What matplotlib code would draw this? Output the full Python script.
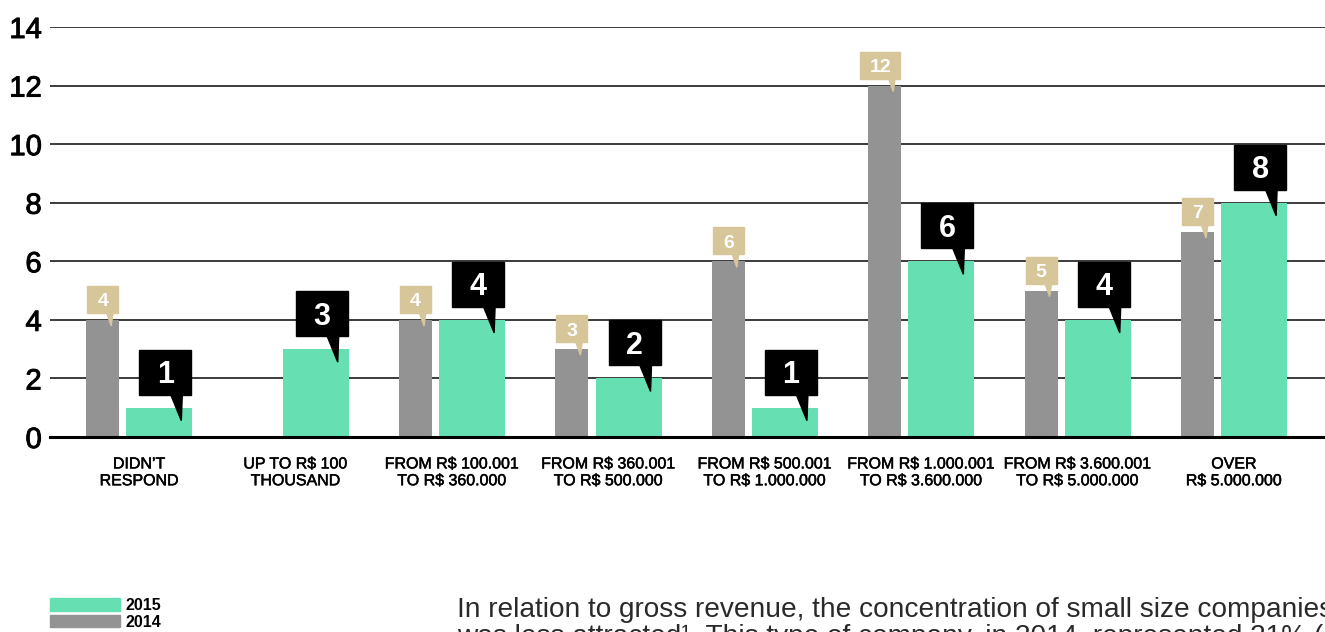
import matplotlib
matplotlib.use('Agg')
import matplotlib.pyplot as plt
import matplotlib.patheffects as pe
from matplotlib.patches import Polygon, Rectangle, Patch
from matplotlib.transforms import Affine2D, ScaledTranslation

plt.rcParams['font.family'] = ['Liberation Sans', 'DejaVu Sans']

categories = [
    "DIDN\u2019T\nRESPOND",
    "UP TO R$ 100\nTHOUSAND",
    "FROM R$ 100.001\nTO R$ 360.000",
    "FROM R$ 360.001\nTO R$ 500.000",
    "FROM R$ 500.001\nTO R$ 1.000.000",
    "FROM R$ 1.000.001\nTO R$ 3.600.000",
    "FROM R$ 3.600.001\nTO R$ 5.000.000",
    "OVER\nR$ 5.000.000",
]
y2014 = [4, 0, 4, 3, 6, 12, 5, 7]
y2015 = [1, 3, 4, 2, 1, 6, 4, 8]
years = ["2015", "2014"]
yticks = [0, 2, 4, 6, 8, 10, 12, 14]

GREEN = "#66e0b3"
GRAY = "#939393"
TAN = "#d8c69b"

note_lines = [
    "In relation to gross revenue, the concentration of small size companies",
    "was less attracted\u00b9. This type of company, in 2014, represented 21% (",
]

fig = plt.figure(figsize=(13.25, 6.32), dpi=100)
ax = fig.add_axes([50 / 1325, 1 - 437 / 632, 1 - 50 / 1325, (437 - 27) / 632])

x = list(range(len(categories)))
w14, w15 = 0.211, 0.422
off14, off15 = -0.232, 0.13
ax.bar([i + off14 for i in x], y2014, width=w14, color=GRAY, zorder=2)
ax.bar([i + off15 for i in x], y2015, width=w15, color=GREEN, zorder=2)

ax.set_xlim(-0.569, 7.583)
ax.set_ylim(0, 14)
ax.set_yticks(yticks)
ax.set_yticklabels([str(t) for t in yticks], fontsize=21)
ax.set_xticks(x)
ax.set_xticklabels(categories, fontsize=11.5, linespacing=1.15)
ax.tick_params(axis='y', length=0, pad=6)
ax.tick_params(axis='x', length=0, pad=14)
# slightly heavier strokes for the axis labels
for lbl in ax.get_yticklabels():
    lbl.set_path_effects([pe.withStroke(linewidth=0.7, foreground='black')])
for lbl in ax.get_xticklabels():
    lbl.set_path_effects([pe.withStroke(linewidth=0.35, foreground='black')])
for s in ['top', 'right', 'left']:
    ax.spines[s].set_visible(False)
ax.spines['bottom'].set_linewidth(2.2)
ax.spines['bottom'].set_color('black')
ax.yaxis.grid(True, color='#1a1a1a', lw=1.2)
ax.set_axisbelow(True)


def anchor(xr, val):
    # pixel offsets measured from the top-right corner of a bar
    return (Affine2D().scale(1 / fig.dpi) + fig.dpi_scale_trans
            + ScaledTranslation(xr, val, ax.transData))


def callout(xr, val, color, w, h, gap, base, tip, fs):
    tr = anchor(xr, val)
    ax.add_patch(Rectangle((-1 - w, gap), w, h, transform=tr, color=color,
                           clip_on=False, zorder=4))
    ax.add_patch(Polygon([(base[0], gap + 1), (base[1], gap + 1), tip],
                         closed=True, transform=tr, color=color,
                         clip_on=False, zorder=4))
    cap = fs * 0.716 * fig.dpi / 72
    ax.annotate(str(val), xy=(xr, val), xytext=(-1 - w / 2, gap + h / 2 - cap / 2),
                textcoords='offset pixels', ha='center', va='baseline',
                color='white', fontsize=fs, fontweight='bold', zorder=5)


for i in x:
    if y2014[i] > 0:
        wd = 31 if y2014[i] < 10 else 40
        callout(i + off14 + w14 / 2, y2014[i], TAN, wd, 27, 7,
                (-13, -6), (-8, -6), 14)
    callout(i + off15 + w15 / 2, y2015[i], 'black', 52, 45, 13,
            (-22, -10), (-11, -13), 22)

handles = [Patch(color=GREEN), Patch(color=GRAY)]
fig.legend(handles, years, loc='upper left',
           bbox_to_anchor=(50 / 1325, 1 - 598 / 632),
           frameon=False, borderpad=0, borderaxespad=0,
           handlelength=4.4, handleheight=0.85, labelspacing=0.1,
           handletextpad=0.3, prop={'size': 11.5, 'weight': 'bold'})

for k, line in enumerate(note_lines):
    fig.text(457 / 1325, 1 - (617 + 27 * k) / 632, line, fontsize=20.2,
             color='#2a2a2a', va='baseline')

fig.savefig("out.png", dpi=100)
